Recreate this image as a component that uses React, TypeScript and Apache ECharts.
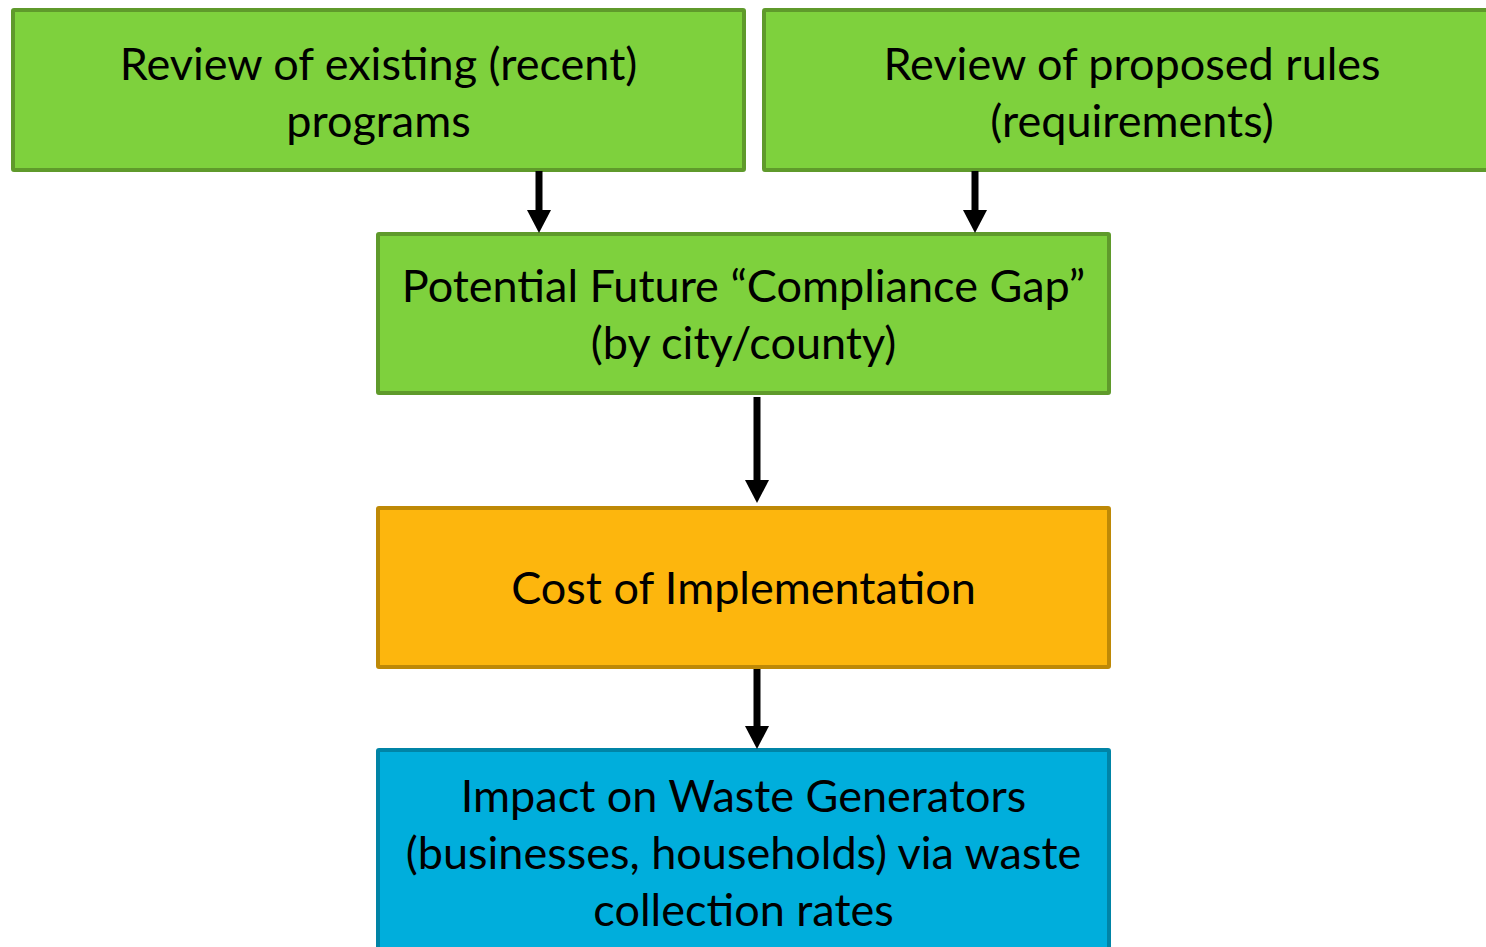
import React, { useEffect, useRef } from "react";
import * as echarts from "echarts";

// Node labels (flow order)
const nodeLabels: string[] = [
  "Review of existing (recent)\nprograms",
  "Review of proposed rules\n(requirements)",
  "Potential Future “Compliance Gap”\n(by city/county)",
  "Cost of Implementation",
  "Impact on Waste Generators\n(businesses, households) via waste\ncollection rates",
];
// Node kinds (drives colour)
const nodeKinds: string[] = ["input", "input", "gap", "cost", "impact"];
// Edges: [from, to]
const edges: [number, number][] = [
  [0, 2],
  [1, 2],
  [2, 3],
  [3, 4],
];

// ---- layout / style (kept separate from data) ----
const boxes = [
  { x: 11, y: 8, w: 735, h: 164 },
  { x: 762, y: 8, w: 740, h: 164 },
  { x: 376, y: 232, w: 735, h: 163 },
  { x: 376, y: 506, w: 735, h: 163 },
  { x: 376, y: 748, w: 735, h: 215 },
];
const textCenters = [91, 91, 313, 587, 852];
const arrowX = [539, 975, 757, 757];
const arrowY = [
  [171, 233],
  [171, 233],
  [397, 503],
  [669, 749],
];
const palette: Record<string, { fill: string; stroke: string }> = {
  input: { fill: "#7ED13D", stroke: "#5F9A2B" },
  gap: { fill: "#7ED13D", stroke: "#5F9A2B" },
  cost: { fill: "#FDB60D", stroke: "#BE8906" },
  impact: { fill: "#00AEDC", stroke: "#0084A6" },
};

export default function App() {
  const ref = useRef<HTMLDivElement>(null);
  useEffect(() => {
    if (!ref.current) return;
    const chart = echarts.init(ref.current, null, { renderer: "svg" });
    const elements: any[] = [];
    nodeLabels.forEach((label, i) => {
      const b = boxes[i];
      const c = palette[nodeKinds[i]];
      elements.push({
        type: "rect",
        shape: { x: b.x + 2, y: b.y + 2, width: b.w - 4, height: b.h - 4, r: 1 },
        style: { fill: c.fill, stroke: c.stroke, lineWidth: 4 },
      });
      elements.push({
        type: "text",
        x: b.x + b.w / 2,
        y: textCenters[i],
        style: {
          text: label,
          fill: "#000",
          fontFamily: "Lato",
          fontSize: 45,
          lineHeight: 57,
          align: "center",
          verticalAlign: "middle",
        },
        z: 10,
      });
    });
    edges.forEach((e, i) => {
      const x = arrowX[i];
      const [y0, y1] = arrowY[i];
      const headH = 23;
      elements.push({
        type: "rect",
        shape: { x: x - 3.5, y: y0, width: 7, height: y1 - y0 - headH + 1 },
        style: { fill: "#000" },
        z: 5,
      });
      elements.push({
        type: "polygon",
        shape: {
          points: [
            [x - 12, y1 - headH],
            [x + 12, y1 - headH],
            [x, y1],
          ],
        },
        style: { fill: "#000" },
        z: 5,
      });
    });
    chart.setOption({
      animation: false,
      backgroundColor: "#fff",
      graphic: { elements },
    });
    return () => chart.dispose();
  }, []);
  return (
    <div
      ref={ref}
      style={{ position: "fixed", left: 0, top: 0, width: 1486, height: 947 }}
    />
  );
}
